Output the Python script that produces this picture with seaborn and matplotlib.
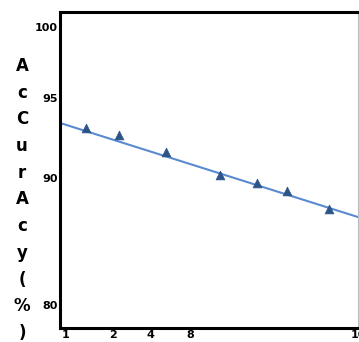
import numpy as np
import matplotlib
matplotlib.use("Agg")
import matplotlib.pyplot as plt
import seaborn as sns

# ---- data ----
x_points = [1.43, 2.32, 5.6, 8.36, 8.80, 9.15, 9.65]
acc_points = [93.1, 92.7, 91.6, 90.2, 89.6, 89.0, 87.6]
trend_x = [0.872, 10.0]
trend_y = [93.44, 86.93]
x_ticks = [1, 2, 4, 8, 10]
y_ticks = [80, 90, 95, 100]
ylabel_chars = list("AcCurAcy(%)")

# tick positions along the axes (pixels) - the axes are unevenly spaced
x_tick_px = [66, 113, 150, 190, 358]
y_tick_px = [342 - 305, 342 - 178, 342 - 98, 342 - 27]


def piecewise(vals, pos):
    vals = np.asarray(vals, float)
    pos = np.asarray(pos, float)

    def fwd(v):
        a = np.array(v, dtype=float, ndmin=1)
        out = np.interp(a, vals, pos)
        lo = a < vals[0]
        hi = a > vals[-1]
        out[lo] = pos[0] + (a[lo] - vals[0]) * (pos[1] - pos[0]) / (vals[1] - vals[0])
        out[hi] = pos[-1] + (a[hi] - vals[-1]) * (pos[-1] - pos[-2]) / (vals[-1] - vals[-2])
        return out.reshape(np.shape(v))

    def inv(p):
        a = np.array(p, dtype=float, ndmin=1)
        out = np.interp(a, pos, vals)
        lo = a < pos[0]
        hi = a > pos[-1]
        out[lo] = vals[0] + (a[lo] - pos[0]) * (vals[1] - vals[0]) / (pos[1] - pos[0])
        out[hi] = vals[-1] + (a[hi] - pos[-1]) * (vals[-1] - vals[-2]) / (pos[-1] - pos[-2])
        return out.reshape(np.shape(p))

    return fwd, inv


sns.set_style("white")
W, H = 359, 342
fig = plt.figure(figsize=(W / 100, H / 100), dpi=100)
ax = fig.add_axes([60 / W, 14 / H, (358 - 60) / W, (328 - 12) / H])

sns.lineplot(x=trend_x, y=trend_y, ax=ax, color="#5a8ad0", linewidth=1.5, zorder=2)
sns.scatterplot(x=x_points, y=acc_points, ax=ax, marker="^", s=40,
                color="#2d5488", edgecolor="#2d5488", linewidth=0.5, zorder=3)

ax.set_xscale("function", functions=piecewise(x_ticks, x_tick_px))
ax.set_yscale("function", functions=piecewise(y_ticks, y_tick_px))
ax.set_xlim(0.872, 10.0)
ax.set_ylim(78.2, 101.05)

ax.set_xticks(x_ticks)
ax.set_xticklabels([str(t) for t in x_ticks])
ax.set_yticks(y_ticks)
ax.set_yticklabels([str(t) for t in y_ticks])
ax.minorticks_off()
ax.tick_params(axis="both", length=0, labelsize=8, pad=1.5, labelcolor="black")
for lab in ax.get_xticklabels() + ax.get_yticklabels():
    lab.set_fontweight("bold")
    lab.set_family("DejaVu Sans")
    lab.set_color("black")

for s in ["left", "top", "bottom"]:
    ax.spines[s].set_color("black")
    ax.spines[s].set_linewidth(2.2)
ax.spines["right"].set_color("#bbbbbb")
ax.spines["right"].set_linewidth(0.8)
ax.set_xlabel("")
ax.set_ylabel("")

for i, ch in enumerate(ylabel_chars):
    fig.text(22 / W, 1 - (71 + 26.7 * i) / H, ch, ha="center", va="baseline",
             fontsize=12, fontweight="bold", family="DejaVu Sans", color="black")

fig.savefig("out.png", dpi=100)
